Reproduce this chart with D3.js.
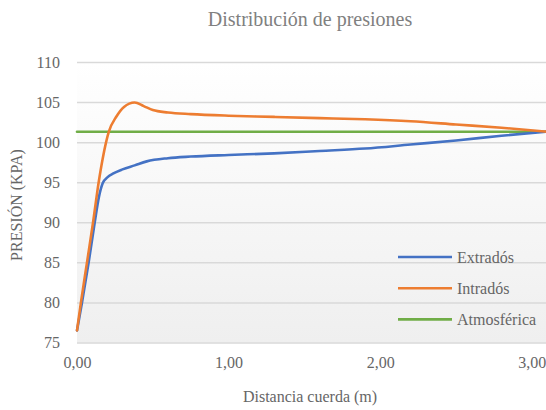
<!DOCTYPE html>
<html>
<head>
<meta charset="utf-8">
<script src="https://cdn.jsdelivr.net/npm/d3@7/dist/d3.min.js"></script>
<style>
  html, body { margin: 0; padding: 0; background: #fff; }
  svg text { font-family: "Liberation Serif", "Times New Roman", serif; }
</style>
</head>
<body>
<svg id="chart" width="546" height="410"></svg>
<script>
// Chord position (m) and pressure (kPa) along the upper surface
const extradosX = [0, 0.033, 0.077, 0.117, 0.145, 0.17, 0.2, 0.24, 0.3, 0.38, 0.46, 0.6, 0.75, 1.0, 1.3, 1.6, 1.9, 2.2, 2.5, 2.8, 3.1];
const extradosP = [76.5, 80, 85, 90, 93.2, 94.9, 95.6, 96.1, 96.6, 97.1, 97.6, 98.0, 98.2, 98.4, 98.6, 98.9, 99.2, 99.7, 100.2, 100.8, 101.3];

// Chord position (m) and pressure (kPa) along the lower surface
const intradosX = [0, 0.026, 0.066, 0.106, 0.143, 0.17, 0.21, 0.26, 0.31, 0.38, 0.44, 0.5, 0.6, 0.75, 1.0, 1.3, 1.6, 1.9, 2.2, 2.5, 2.8, 3.1];
const intradosP = [76.5, 80, 85, 90, 95, 98, 101.3, 103.2, 104.4, 104.95, 104.5, 104.0, 103.7, 103.5, 103.3, 103.15, 103.0, 102.85, 102.6, 102.2, 101.8, 101.3];

// Atmospheric reference pressure
const atmosfericaX = [0, 3.1];
const atmosfericaP = [101.3, 101.3];

const seriesNames = ["Extradós", "Intradós", "Atmosférica"];
const seriesColors = ["#4472C4", "#ED7D31", "#70AD47"];

const xTicks = [0, 1, 2, 3];
const yTicks = [75, 80, 85, 90, 95, 100, 105, 110];

const chartTitle = "Distribución de presiones";
const xTitle = "Distancia cuerda (m)";
const yTitle = "PRESIÓN (KPA)";

const svg = d3.select("#chart");
const plot = { left: 77, right: 547, top: 62, bottom: 342.5 };

const x = d3.scaleLinear().domain([0, 3.1]).range([plot.left, plot.right]);
const y = d3.scaleLinear().domain([75, 110]).range([plot.bottom, plot.top]);

// Plot area background: soft vertical gradient
const defs = svg.append("defs");
const grad = defs.append("linearGradient").attr("id", "bg").attr("x1", 0).attr("y1", 0).attr("x2", 0).attr("y2", 1);
grad.append("stop").attr("offset", "0%").attr("stop-color", "#ffffff");
grad.append("stop").attr("offset", "100%").attr("stop-color", "#efefef");
svg.append("rect")
  .attr("x", plot.left).attr("y", plot.top)
  .attr("width", plot.right - plot.left).attr("height", plot.bottom - plot.top)
  .attr("fill", "url(#bg)");

// Horizontal gridlines + y tick labels
const yAxis = d3.axisLeft(y).tickValues(yTicks).tickSize(-(plot.right - plot.left)).tickPadding(17).tickFormat(d3.format("d"));
const gy = svg.append("g").attr("transform", `translate(${plot.left},0)`).call(yAxis);
gy.attr("font-family", null);
gy.select(".domain").remove();
gy.selectAll(".tick line").attr("stroke", "#d9d9d9").attr("stroke-width", 1.5);
gy.selectAll(".tick text").attr("fill", "#666").style("font-size", "16px");

// x tick labels
const xAxis = d3.axisBottom(x).tickValues(xTicks).tickSize(0).tickPadding(14)
  .tickFormat(d => d3.format(".2f")(d).replace(".", ","));
const gx = svg.append("g").attr("transform", `translate(0,${plot.bottom})`).call(xAxis);
gx.attr("font-family", null);
gx.select(".domain").remove();
gx.selectAll(".tick text").attr("fill", "#666").style("font-size", "16px");

// Series lines
const series = [
  { xs: extradosX, ys: extradosP },
  { xs: intradosX, ys: intradosP },
  { xs: atmosfericaX, ys: atmosfericaP }
];
const line = d3.line().x(d => x(d[0])).y(d => y(d[1])).curve(d3.curveMonotoneX);
const clip = defs.append("clipPath").attr("id", "plotclip");
clip.append("rect").attr("x", plot.left - 2).attr("y", plot.top - 5).attr("width", plot.right - plot.left + 4).attr("height", plot.bottom - plot.top + 10);

// Draw atmospheric first so the others sit on top where they meet
[2, 0, 1].forEach(i => {
  const s = series[i];
  svg.append("path")
    .datum(s.xs.map((v, k) => [v, s.ys[k]]))
    .attr("clip-path", "url(#plotclip)")
    .attr("fill", "none")
    .attr("stroke", seriesColors[i])
    .attr("stroke-width", 2.6)
    .attr("stroke-linejoin", "round")
    .attr("stroke-linecap", "round")
    .attr("d", line);
});

// Legend
const legend = svg.append("g").attr("transform", "translate(398,257)");
seriesNames.forEach((name, i) => {
  const row = legend.append("g").attr("transform", `translate(0,${i * 31.2})`);
  row.append("line").attr("x1", 0).attr("x2", 54).attr("y1", 0).attr("y2", 0)
    .attr("stroke", seriesColors[i]).attr("stroke-width", 2.6);
  row.append("text").attr("x", 59).attr("y", 6).attr("fill", "#666").style("font-size", "16px").text(name);
});

// Titles
svg.append("text").attr("x", 310).attr("y", 26).attr("text-anchor", "middle")
  .attr("fill", "#808080").style("font-size", "20px").text(chartTitle);
svg.append("text").attr("x", 310).attr("y", 402).attr("text-anchor", "middle")
  .attr("fill", "#666").style("font-size", "16px").text(xTitle);
svg.append("text").attr("transform", "translate(22,205) rotate(-90)").attr("text-anchor", "middle")
  .attr("fill", "#666").style("font-size", "16px").text(yTitle);
</script>
</body>
</html>
